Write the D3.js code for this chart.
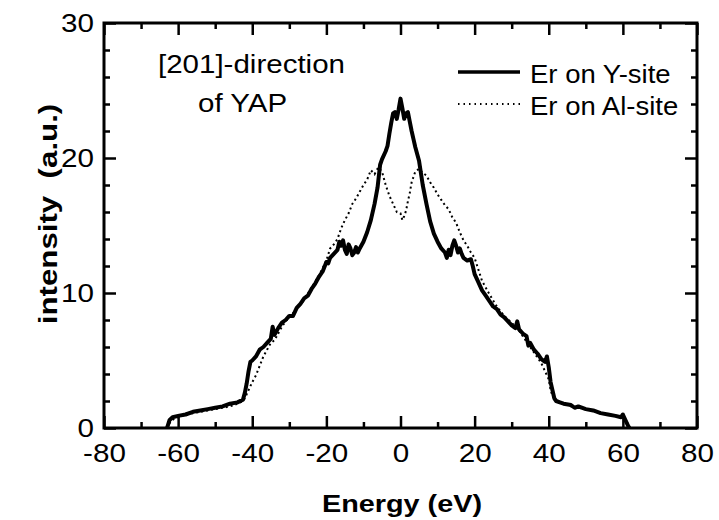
<!DOCTYPE html>
<html>
<head>
<meta charset="utf-8">
<script src="https://cdn.jsdelivr.net/npm/d3@7"></script>
<style>
  body { margin: 0; background: #fff; }
  svg { display: block; }
</style>
</head>
<body>
<div id="chart"></div>
<script>
// Er on Y-site (solid) : [energy eV, intensity]
const ySite = [
  [-63, 0.0], [-62.3, 0.6], [-61.5, 0.8], [-60, 0.9], [-58, 1.0], [-56, 1.2], [-54, 1.3],
  [-52, 1.4], [-50, 1.5], [-48, 1.6], [-46, 1.8], [-44, 1.9], [-42.5, 2.1], [-42, 2.6],
  [-41.5, 3.3], [-41, 4.2], [-40.5, 4.9], [-40, 5.0], [-39, 5.3], [-38, 5.8], [-37, 6.0],
  [-36, 6.3], [-35, 6.6], [-34.5, 7.5], [-34, 6.9], [-33, 7.4], [-32, 7.8], [-31, 8.0],
  [-30, 8.3], [-29, 8.3], [-28, 8.9], [-27, 9.2], [-26, 9.6], [-25, 9.8], [-24, 10.3],
  [-23, 10.7], [-22, 11.2], [-21, 11.6], [-20, 12.3], [-19.5, 12.2], [-19, 12.6], [-18, 12.9],
  [-17, 13.2], [-16.5, 13.8], [-16, 13.5], [-15.5, 13.9], [-15, 13.2], [-14.5, 12.9],
  [-14, 13.6], [-13.5, 13.3], [-13, 12.8], [-12.5, 13.0], [-12, 13.4], [-11.5, 13.0],
  [-11, 13.3], [-10, 13.8], [-9, 14.5], [-8, 15.4], [-7, 16.6], [-6.2, 17.8], [-5.5, 19.5],
  [-5, 19.9], [-4, 20.5], [-3.5, 20.9], [-3, 21.8], [-2.5, 22.6], [-2, 23.3], [-1.5, 23.4],
  [-1, 22.9], [-0.5, 23.6], [0, 24.4], [0.5, 23.7], [1, 22.9], [1.5, 23.3], [2, 23.4],
  [2.5, 22.7], [3, 22.0], [3.5, 21.4], [4, 20.8], [5, 19.8], [6, 18.0], [7, 16.6],
  [8, 15.3], [9, 14.4], [10, 13.8], [11, 13.3], [12, 13.0], [12.5, 12.6], [13, 13.2],
  [13.5, 12.8], [14, 13.5], [14.5, 13.9], [15, 13.5], [15.5, 13.0], [16, 13.3], [16.5, 12.9],
  [17, 12.6], [18, 12.4], [19, 12.5], [19.5, 12.0], [20, 11.4], [21, 10.8], [22, 10.2],
  [23, 9.8], [24, 9.4], [25, 9.0], [26, 8.8], [27, 8.4], [28, 8.2], [29, 7.9], [30, 7.6],
  [31, 7.4], [31.5, 7.9], [32, 7.3], [33, 7.0], [34, 6.8], [34.5, 6.1], [35, 6.3], [36, 5.8],
  [37, 5.5], [38, 5.1], [39, 4.9], [39.5, 5.3], [40, 4.5], [40.5, 3.4], [41, 2.8],
  [41.5, 2.2], [42, 2.0], [43, 1.9], [44, 1.8], [46, 1.7], [47, 1.5], [48, 1.6], [50, 1.4],
  [52, 1.3], [54, 1.1], [56, 1.0], [58, 0.9], [59.5, 0.8], [60, 1.0], [60.5, 0.7],
  [61, 0.4], [61.7, 0.0]
];

// Er on Al-site (dotted) : [energy eV, intensity]
const alSite = [
  [-63, 0.0], [-62, 0.5], [-61, 0.7], [-60, 0.8], [-58, 1.0], [-56, 1.1], [-54, 1.2],
  [-52, 1.3], [-50, 1.4], [-48, 1.5], [-46, 1.6], [-44, 1.8], [-42.5, 2.0], [-42, 2.2],
  [-41, 2.8], [-40, 3.4], [-39, 3.9], [-38, 4.6], [-37, 5.3], [-36, 5.8], [-35, 6.3],
  [-34, 6.5], [-33, 7.0], [-32, 7.5], [-31, 7.9], [-30, 8.2], [-28, 8.8], [-26, 9.5],
  [-24, 10.4], [-22, 11.3], [-20, 12.4], [-19, 13.3], [-18, 13.6], [-17, 14.0], [-16, 14.8],
  [-15, 15.4], [-14, 15.9], [-13, 16.6], [-12, 17.0], [-11, 17.5], [-10, 18.0], [-9, 18.4],
  [-8, 19.1], [-7, 18.8], [-6, 19.3], [-5, 19.0], [-4.5, 18.5], [-4, 18.0], [-3, 17.2],
  [-2, 16.6], [-1.5, 16.3], [-1, 16.0], [0, 15.9], [0.5, 15.4], [1, 15.7], [1.5, 16.1],
  [2, 16.8], [2.5, 17.4], [3, 18.2], [4, 19.0], [5, 19.2], [6, 18.9], [7, 18.7], [8, 18.2],
  [9, 17.8], [10, 17.3], [11, 16.9], [12, 16.5], [13, 16.2], [14, 15.6], [15, 15.2],
  [16, 14.5], [17, 13.9], [18, 13.5], [19, 13.0], [20, 12.6], [22, 10.9], [24, 9.9],
  [26, 9.0], [28, 8.3], [30, 7.8], [32, 7.2], [34, 6.4], [36, 5.6], [38, 4.8], [39, 4.2],
  [40, 3.6], [40.5, 2.8], [41, 2.4], [42, 2.0], [44, 1.8], [46, 1.6], [48, 1.5], [50, 1.4],
  [52, 1.3], [54, 1.1], [56, 1.0], [58, 0.9], [60, 0.8], [61, 0.5], [62, 0.0]
];

const xMajor = [-80, -60, -40, -20, 0, 20, 40, 60, 80];
const xMinor = [-70, -50, -30, -10, 10, 30, 50, 70];
const yMajor = [0, 10, 20, 30];
const yMinor = [2, 4, 6, 8, 12, 14, 16, 18, 22, 24, 26, 28];
const legendLabels = ["Er on Y-site", "Er on Al-site"];
const noteLines = ["[201]-direction", "of YAP"];

// 横向拉宽文字 (the scanned figure is slightly wide)
function stretch(sel, k) {
    sel.each(function() {
        const w = this.getComputedTextLength();
        if (w > 0) {
            d3.select(this)
                .attr("textLength", w * k)
                .attr("lengthAdjust", "spacingAndGlyphs");
        }
    });
}

function drawChart() {
    const width = 719;
    const height = 520;
    const font = "'Liberation Sans', Arial, Helvetica, sans-serif";

    d3.select("#chart").selectAll("*").remove();

    const svg = d3.select("#chart")
        .append("svg")
        .attr("width", width)
        .attr("height", height);

    const x = d3.scaleLinear().domain([-80, 80]).range([104, 697]);
    const y = d3.scaleLinear().domain([0, 30]).range([428, 23]);

    // 轴 (ticks inward on all four sides)
    function styleAxis(g) {
        g.select(".domain").remove();
        g.selectAll("line").attr("stroke", "#000").attr("stroke-width", 2.5);
        g.selectAll("text").attr("fill", "#000").attr("font-family", font).attr("font-size", "26px");
    }

    const xAxis = svg.append("g")
        .attr("transform", `translate(0,${y(0)})`)
        .call(d3.axisBottom(x).tickValues(xMajor).tickSize(-12).tickPadding(16).tickFormat(d => String(d)))
        .call(styleAxis);
    svg.append("g")
        .attr("transform", `translate(0,${y(0)})`)
        .call(d3.axisBottom(x).tickValues(xMinor).tickSize(-6).tickFormat(""))
        .call(styleAxis);
    svg.append("g")
        .attr("transform", `translate(0,${y(30)})`)
        .call(d3.axisTop(x).tickValues(xMajor).tickSize(-12).tickFormat(""))
        .call(styleAxis);
    svg.append("g")
        .attr("transform", `translate(0,${y(30)})`)
        .call(d3.axisTop(x).tickValues(xMinor).tickSize(-6).tickFormat(""))
        .call(styleAxis);

    const yAxis = svg.append("g")
        .attr("transform", `translate(${x(-80)},0)`)
        .call(d3.axisLeft(y).tickValues(yMajor).tickSize(-12).tickPadding(10).tickFormat(d => String(d)))
        .call(styleAxis);
    svg.append("g")
        .attr("transform", `translate(${x(-80)},0)`)
        .call(d3.axisLeft(y).tickValues(yMinor).tickSize(-6).tickFormat(""))
        .call(styleAxis);
    svg.append("g")
        .attr("transform", `translate(${x(80)},0)`)
        .call(d3.axisRight(y).tickValues(yMajor).tickSize(-12).tickFormat(""))
        .call(styleAxis);
    svg.append("g")
        .attr("transform", `translate(${x(80)},0)`)
        .call(d3.axisRight(y).tickValues(yMinor).tickSize(-6).tickFormat(""))
        .call(styleAxis);

    stretch(xAxis.selectAll("text"), 1.14);
    stretch(yAxis.selectAll("text"), 1.14);

    // 边框
    svg.append("rect")
        .attr("x", x(-80))
        .attr("y", y(30))
        .attr("width", x(80) - x(-80))
        .attr("height", y(0) - y(30))
        .attr("fill", "none")
        .attr("stroke", "#000")
        .attr("stroke-width", 3);

    // 曲线
    const line = d3.line()
        .x(d => x(d[0]))
        .y(d => y(d[1]));

    svg.append("path")
        .datum(alSite)
        .attr("d", line)
        .attr("fill", "none")
        .attr("stroke", "#000")
        .attr("stroke-width", 2)
        .attr("stroke-dasharray", "2,3");

    svg.append("path")
        .datum(ySite)
        .attr("d", line)
        .attr("fill", "none")
        .attr("stroke", "#000")
        .attr("stroke-width", 4)
        .attr("stroke-linejoin", "round");

    // 轴标题
    const xTitle = svg.append("text")
        .attr("x", 402)
        .attr("y", 512)
        .attr("text-anchor", "middle")
        .attr("font-family", font)
        .attr("font-weight", "bold")
        .attr("font-size", "24px")
        .text("Energy (eV)");
    stretch(xTitle, 1.2);

    const yTitle = svg.append("text")
        .attr("transform", "translate(57,214) rotate(-90)")
        .attr("text-anchor", "middle")
        .attr("font-family", font)
        .attr("font-weight", "bold")
        .attr("font-size", "25px")
        .style("white-space", "pre")
        .text("intensity  (a.u.)");
    stretch(yTitle, 1.25);

    // 注释
    const note = svg.append("g");
    note.append("text")
        .attr("x", 158)
        .attr("y", 73)
        .text(noteLines[0]);
    note.append("text")
        .attr("x", 198)
        .attr("y", 112)
        .text(noteLines[1]);
    note.selectAll("text")
        .attr("font-family", font)
        .attr("font-size", "25px");
    stretch(note.selectAll("text"), 1.18);

    // 图例
    const legend = svg.append("g");
    const rows = [
        { y: 72, width: 3.5, dash: null },
        { y: 104, width: 2, dash: "1.5,4" }
    ];
    rows.forEach((r, i) => {
        legend.append("line")
            .attr("x1", 458)
            .attr("x2", 520)
            .attr("y1", r.y)
            .attr("y2", r.y)
            .attr("stroke", "#000")
            .attr("stroke-width", r.width)
            .attr("stroke-dasharray", r.dash);
        legend.append("text")
            .attr("x", 530)
            .attr("y", r.y + 11)
            .attr("font-family", font)
            .attr("font-size", "25px")
            .text(legendLabels[i]);
    });
    stretch(legend.selectAll("text"), 1.1);
}

drawChart();
</script>
</body>
</html>
